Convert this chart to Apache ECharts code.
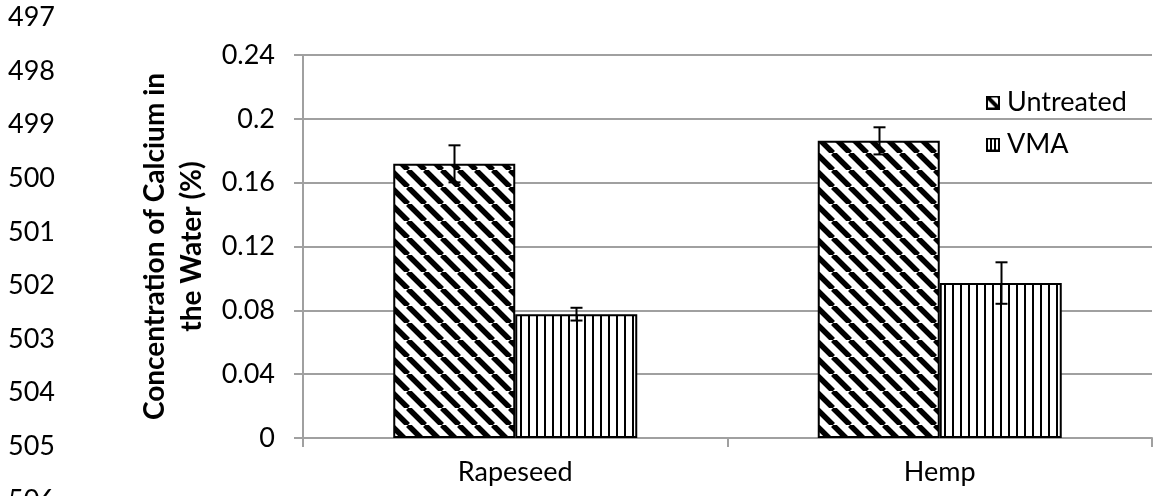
<!DOCTYPE html>
<html><head><meta charset="utf-8">
<script src="https://cdn.jsdelivr.net/npm/echarts@6/dist/echarts.min.js"></script>
<style>html,body{margin:0;padding:0;background:#fff}#c{width:1155px;height:496px}</style>
</head><body><div id="c"></div>
<script>
// ---- data ----
const categories = ['Rapeseed', 'Hemp'];
const seriesNames = ['Untreated', 'VMA'];
const untreated = [0.1718, 0.1862];
const vma = [0.0776, 0.0971];
const untreatedErr = [0.0116, 0.0085];
const vmaErr = [0.0040, 0.0130];
const yMin = 0, yMax = 0.24, yStep = 0.04;
const lineNumbers = ['497','498','499','500','501','502','503','504','505','506'];
const yAxisTitle = 'Concentration of Calcium in\nthe Water (%)';

// ---- styles ----
const FONT = 'Lato';
const FS = 27;
function diagPattern(p, lw) {
  const c = document.createElement('canvas'); c.width = p; c.height = p;
  const g = c.getContext('2d');
  g.fillStyle = '#fff'; g.fillRect(0, 0, p, p);
  g.strokeStyle = '#000'; g.lineWidth = lw; g.beginPath();
  for (let k = -1; k <= 1; k++) { g.moveTo(k * p, 0); g.lineTo(k * p + p, p); }
  g.stroke();
  return { image: c, repeat: 'repeat' };
}
function vertPattern(p, lw) {
  const c = document.createElement('canvas'); c.width = p; c.height = p;
  const g = c.getContext('2d');
  g.fillStyle = '#fff'; g.fillRect(0, 0, p, p);
  g.fillStyle = '#000'; g.fillRect(0, 0, lw, p);
  return { image: c, repeat: 'repeat' };
}
function legendIcon(kind) {
  const s = 14;
  const c = document.createElement('canvas'); c.width = s; c.height = s;
  const g = c.getContext('2d');
  g.fillStyle = '#fff'; g.fillRect(0, 0, s, s);
  g.fillStyle = '#000';
  if (kind === 'diag') {
    g.strokeStyle = '#000'; g.lineWidth = 4; g.beginPath();
    g.moveTo(0, 0); g.lineTo(s, s); g.stroke();
    g.beginPath(); g.moveTo(s - 5, 0); g.lineTo(s, 0); g.lineTo(s, 5); g.closePath(); g.fill();
  } else {
    g.fillRect(4, 0, 2, s); g.fillRect(8, 0, 2, s);
  }
  g.strokeStyle = '#000'; g.lineWidth = 2; g.strokeRect(1, 1, s - 2, s - 2);
  return 'image://' + c.toDataURL();
}
const diag = diagPattern(17, 5.5);
const vert = vertPattern(8, 2);
const BAR_W = 122;

function errRender(offset) {
  return function (params, api) {
    const x = api.value(0), y = api.value(1), e = api.value(2);
    const hi = api.coord([x, y + e]);
    const lo = api.coord([x, y - e]);
    const cx = Math.round(hi[0] + offset) + 0.5;
    const cap = 6;
    const st = { stroke: '#000', lineWidth: 2 };
    return { type: 'group', children: [
      { type: 'line', shape: { x1: cx, y1: hi[1], x2: cx, y2: lo[1] }, style: st },
      { type: 'line', shape: { x1: cx - cap, y1: hi[1], x2: cx + cap, y2: hi[1] }, style: st },
      { type: 'line', shape: { x1: cx - cap, y1: lo[1], x2: cx + cap, y2: lo[1] }, style: st }
    ]};
  };
}

const chart = echarts.init(document.getElementById('c'), null, { renderer: 'canvas' });
chart.setOption({
  animation: false,
  backgroundColor: '#fff',
  textStyle: { fontFamily: FONT, color: '#000' },
  grid: { left: 303, right: 3, top: 55, bottom: 58 },
  legend: {
    orient: 'vertical', left: 981, top: 82,
    data: [
      { name: seriesNames[0], icon: legendIcon('diag') },
      { name: seriesNames[1], icon: legendIcon('vert') }
    ],
    itemWidth: 14, itemHeight: 14, itemGap: 11,
    textStyle: { fontFamily: FONT, fontSize: FS, color: '#000', lineHeight: 31, padding: [0, 0, 0, 2] }
  },
  xAxis: {
    type: 'category', data: categories,
    axisLine: { lineStyle: { color: '#a0a0a0', width: 2 } },
    axisTick: { show: true, length: 9, lineStyle: { color: '#a0a0a0', width: 2 } },
    axisLabel: { fontFamily: FONT, fontSize: FS, color: '#000', margin: 21 }
  },
  yAxis: {
    type: 'value', min: yMin, max: yMax, interval: yStep,
    name: yAxisTitle, nameLocation: 'middle', nameGap: 73,
    nameTextStyle: { fontFamily: FONT, fontSize: 28, fontWeight: 'bold', color: '#000', lineHeight: 37 },
    axisLine: { show: true, lineStyle: { color: '#a0a0a0', width: 2 } },
    axisTick: { show: true, length: 9, lineStyle: { color: '#a0a0a0', width: 2 } },
    splitLine: { lineStyle: { color: '#a0a0a0', width: 2 } },
    axisLabel: { fontFamily: FONT, fontSize: FS, color: '#000', margin: 28 }
  },
  graphic: lineNumbers.map((t, i) => ({
    type: 'text', left: 8, top: 4 + i * 53.6,
    style: { text: t, fontFamily: FONT, fontSize: FS, fill: '#000' }
  })),
  series: [
    { name: seriesNames[0], type: 'bar', data: untreated, barWidth: BAR_W, barGap: '0%',
      itemStyle: { color: diag, borderColor: '#000', borderWidth: 2 } },
    { name: seriesNames[1], type: 'bar', data: vma, barWidth: BAR_W, barGap: '0%',
      itemStyle: { color: vert, borderColor: '#000', borderWidth: 2 } },
    { type: 'custom', renderItem: errRender(-BAR_W / 2), z: 10,
      data: categories.map((c, i) => [i, untreated[i], untreatedErr[i]]) },
    { type: 'custom', renderItem: errRender(BAR_W / 2), z: 10,
      data: categories.map((c, i) => [i, vma[i], vmaErr[i]]) }
  ]
});
</script></body></html>
